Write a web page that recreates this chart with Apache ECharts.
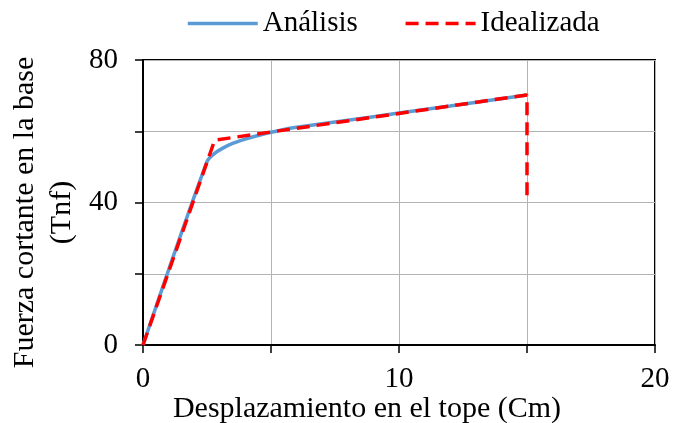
<!DOCTYPE html>
<html>
<head>
<meta charset="utf-8">
<script src="https://cdn.jsdelivr.net/npm/echarts@6/dist/echarts.min.js"></script>
<style>
html,body{margin:0;padding:0;background:#fff;}
#chart{width:683px;height:423px;}
</style>
</head>
<body>
<div id="chart"></div>
<script>
// Data
var analisisX = [0, 2.5, 2.8, 3.1, 3.5, 4.0, 4.5, 5.0, 5.5, 6.0, 8.0, 10.0, 12.0, 15.0];
var analisisY = [0, 51.5, 53.8, 55.2, 56.6, 57.8, 58.8, 59.7, 60.5, 61.1, 63.1, 65.1, 67.1, 70.2];
var idealX = [0, 2.8, 15.0, 15.0];
var idealY = [0, 57.5, 70.2, 41.0];
var seriesNames = ['Análisis', 'Idealizada'];
var xTickLabels = [0, 10, 20];
var yTickLabels = [0, 40, 80];

function pairs(xs, ys){ return xs.map(function(x,i){ return [x, ys[i]]; }); }

var font = 'Liberation Serif, Times New Roman, serif';
var fs = 29;
var fsTitle = 30;
var chart = echarts.init(document.getElementById('chart'), null, {renderer:'canvas'});
chart.setOption({
  animation: false,
  backgroundColor: '#fff',
  textStyle: {fontFamily: font},
  legend: {
    top: 4,
    left: 181,
    itemWidth: 70,
    itemHeight: 14,
    itemGap: 46,
    itemStyle: {opacity: 0},
    lineStyle: {width: 3.5},
    textStyle: {fontFamily: font, fontSize: fs, color: '#000'},
    data: seriesNames
  },
  grid: {
    left: 143, right: 28, top: 60, bottom: 78,
    show: true, borderColor: '#000', borderWidth: 2,
    outerBoundsMode: 'none',
    containLabel: false
  },
  xAxis: {
    type: 'value', min: 0, max: 20, interval: 5,
    name: 'Desplazamiento en el tope (Cm)',
    nameLocation: 'middle', nameGap: 49, nameMoveOverlap: false,
    nameTextStyle: {fontFamily: font, fontSize: fsTitle, color: '#000', padding: [0, 64, 0, 0]},
    axisLine: {show: true, onZero: false, lineStyle: {color: '#000', width: 2}},
    axisTick: {show: true, inside: false, length: 8, lineStyle: {color: '#000', width: 1.5}},
    axisLabel: {
      fontFamily: font, fontSize: fs, color: '#000', margin: 20,
      formatter: function(v){ return xTickLabels.indexOf(v) >= 0 ? String(v) : ''; }
    },
    splitLine: {show: true, lineStyle: {color: '#b3b3b3', width: 1}}
  },
  yAxis: {
    type: 'value', min: 0, max: 80, interval: 20,
    name: 'Fuerza cortante en la base\n(Tnf)',
    nameLocation: 'middle', nameGap: 62, nameRotate: 90, nameMoveOverlap: false,
    nameTextStyle: {fontFamily: font, fontSize: fsTitle, color: '#000', lineHeight: 37, align: 'center', padding: [0,20,0,0]},
    axisLine: {show: true, onZero: false, lineStyle: {color: '#000', width: 2}},
    axisTick: {show: true, inside: false, length: 8, lineStyle: {color: '#000', width: 1.5}},
    axisLabel: {
      fontFamily: font, fontSize: fs, color: '#000', margin: 25,
      formatter: function(v){ return yTickLabels.indexOf(v) >= 0 ? String(v) : ''; }
    },
    splitLine: {show: true, lineStyle: {color: '#b3b3b3', width: 1}}
  },
  series: [
    {
      name: seriesNames[0], type: 'line', data: pairs(analisisX, analisisY),
      symbol: 'none', smooth: 0.3, z: 2,
      lineStyle: {color: '#5B9BD5', width: 3.5},
      itemStyle: {color: '#5B9BD5'}
    },
    {
      name: seriesNames[1], type: 'line', data: pairs(idealX, idealY),
      symbol: 'none', z: 3,
      lineStyle: {color: '#FF0000', width: 3.5, type: [13, 7]},
      itemStyle: {color: '#FF0000'}
    }
  ]
});
</script>
</body>
</html>
